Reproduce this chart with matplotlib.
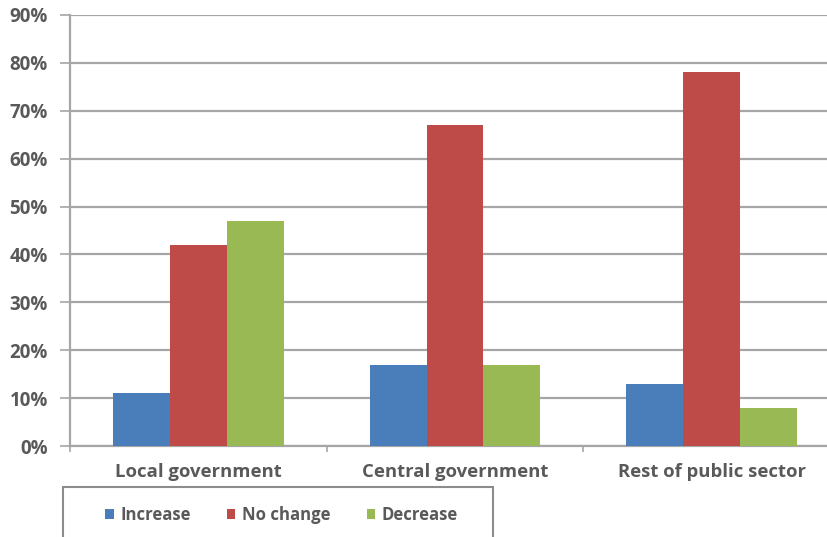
import matplotlib
matplotlib.use("Agg")
import matplotlib.pyplot as plt
import numpy as np
from matplotlib.patches import Rectangle

categories = ["Local government", "Central government", "Rest of public sector"]
series_names = ["Increase", "No change", "Decrease"]
increase = [11, 17, 13]
no_change = [42, 67, 78]
decrease = [47, 17, 8]
colors = ["#4a7ebb", "#be4b48", "#98b954"]
yticks = [0, 10, 20, 30, 40, 50, 60, 70, 80, 90]

plt.rcParams['font.family'] = ['Open Sans', 'DejaVu Sans']
text_color = "#595959"
grid_color = "#a6a6a6"

W, H = 827, 537
fig = plt.figure(figsize=(W / 100, H / 100), dpi=100)
ax = fig.add_axes([70 / W, 1 - 446 / H, (840 - 70) / W, (446 - 15) / H])

x = np.arange(len(categories))
bw = 0.222
values = [increase, no_change, decrease]
for i, (vals, c, name) in enumerate(zip(values, colors, series_names)):
    ax.bar(x + (i - 1) * bw, vals, width=bw, color=c, label=name, zorder=3)

ax.set_xlim(-0.5, 2.5)
ax.set_ylim(0, 90)
ax.set_yticks(yticks)
ax.set_yticklabels([f"{v}%" for v in yticks])
ax.yaxis.grid(True, color=grid_color, linewidth=1.6, zorder=0)
ax.set_xticks(x)
ax.set_xticklabels(categories)
ax.set_xticks([-0.5, 0.5, 1.5, 2.5], minor=True)
ax.tick_params(axis='x', which='major', length=0, pad=12, labelsize=13.3,
               labelcolor=text_color)
ax.tick_params(axis='x', which='minor', length=4, color=grid_color, width=1.2)
ax.tick_params(axis='y', length=7, color=grid_color, width=1.2, pad=9,
               labelsize=13.5, labelcolor=text_color)
for lab in ax.get_yticklabels() + ax.get_xticklabels():
    lab.set_fontweight('bold')

for s in ['top', 'right']:
    ax.spines[s].set_visible(False)
ax.spines['left'].set_color(grid_color)
ax.spines['left'].set_linewidth(1.6)
ax.spines['bottom'].set_color(grid_color)
ax.spines['bottom'].set_linewidth(1.6)

# legend box
rect = Rectangle((63 / W, -0.05), (493 - 63) / W, (0.05 + 1 - 487 / H),
                 transform=fig.transFigure, fill=False, edgecolor="#8c8c8c",
                 linewidth=1.5)
fig.patches.append(rect)
leg = fig.legend(loc='center left', bbox_to_anchor=(90 / W, 1 - 515 / H),
                 ncol=3, frameon=False, handlelength=0.5, handleheight=0.5,
                 handletextpad=0.4, columnspacing=2.15,
                 prop={'size': 12.1, 'weight': 'bold'})
for t in leg.get_texts():
    t.set_color(text_color)

fig.savefig("out.png", dpi=100)
